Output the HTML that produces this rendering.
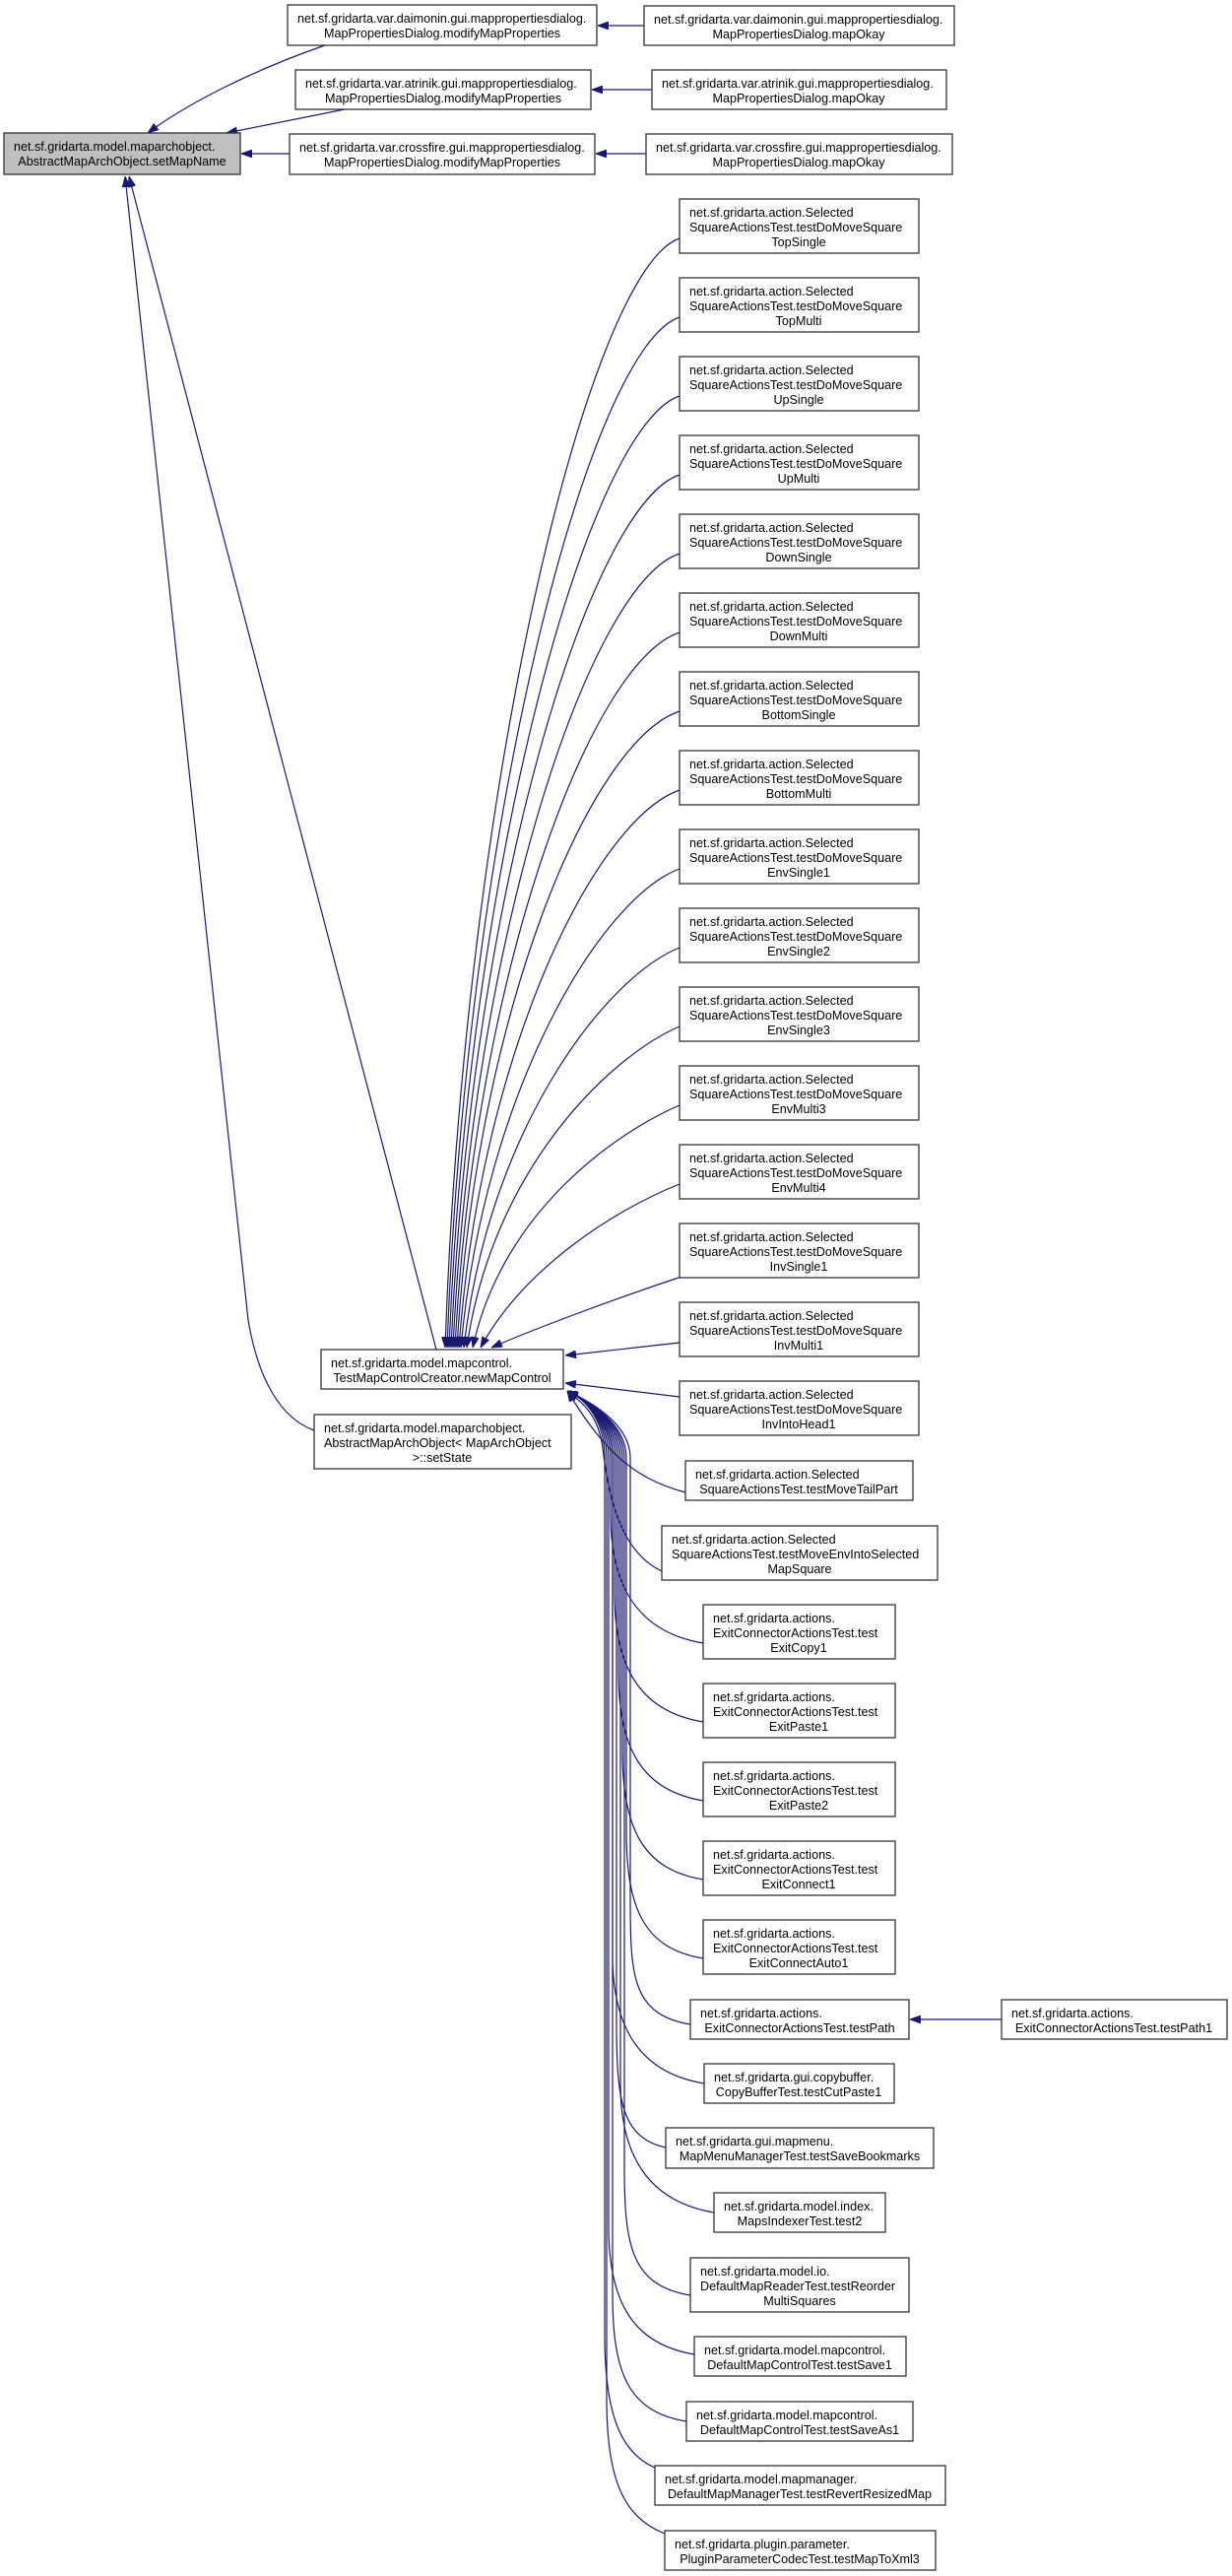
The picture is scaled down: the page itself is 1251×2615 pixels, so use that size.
<!DOCTYPE html>
<html><head><meta charset="utf-8">
<style>
html,body{margin:0;padding:0;background:#fff;}
svg{display:block;}
text{font-family:"Liberation Sans",Arial,sans-serif;font-size:12.6px;fill:#000;}
.b{fill:#fff;stroke:#333;stroke-width:1.3;}
.g{fill:#bfbfbf;stroke:#333;stroke-width:1.3;}
.e{fill:none;stroke:#191970;stroke-width:1.2;marker-end:url(#a);}
.m{text-anchor:middle;}
</style></head>
<body>
<svg width="1251" height="2615" viewBox="0 0 1251 2615" xmlns="http://www.w3.org/2000/svg">
<defs>
<marker id="a" viewBox="0 0 10 10" refX="10" refY="5" markerWidth="11" markerHeight="8" markerUnits="userSpaceOnUse" orient="auto" preserveAspectRatio="none"><path d="M0,0 L10,5 L0,10 z" fill="#191970" stroke="#191970"/></marker>
</defs>

<path class="e" d="M330,46 C260,70 190,105 150,135"/>
<path class="e" d="M350,111 L230,135"/>
<path class="e" d="M294,156 L245,156"/>
<path class="e" d="M443,1370 L131,179"/>
<path class="e" d="M319,1452 C285,1440 262,1400 252,1340 L127,179"/>
<path class="e" d="M654,26 L607,26"/>
<path class="e" d="M662,91 L601,91"/>
<path class="e" d="M656,156 L605,156"/>
<path class="e" d="M1017,2050 L924,2050"/>

<path class="e" d="M690,242 C600,272 472,786 452,1368"/>
<path class="e" d="M690,322 C600,352 474,826 454,1368"/>
<path class="e" d="M690,402 C600,432 476,866 456,1368"/>
<path class="e" d="M690,482 C600,512 478,906 458,1368"/>
<path class="e" d="M690,562 C600,592 480,946 460,1368"/>
<path class="e" d="M690,642 C600,672 482,986 462,1368"/>
<path class="e" d="M690,722 C600,752 484,1026 464,1368"/>
<path class="e" d="M690,802 C605,832 488,1066 466,1368"/>
<path class="e" d="M690,882 C610,912 492,1106 468,1368"/>
<path class="e" d="M690,962 C615,992 496,1146 471,1368"/>
<path class="e" d="M690,1042 C620,1072 500,1186 474,1368"/>
<path class="e" d="M690,1122 C625,1150 510,1230 480,1368"/>
<path class="e" d="M690,1202 C620,1230 530,1290 488,1368"/>
<path class="e" d="M692,1296 C620,1320 540,1350 499,1368"/>
<path class="e" d="M690,1363 L574,1376"/>
<path class="e" d="M690,1418 L574,1404"/>

<path class="e" d="M696,1515 C640,1500 612,1470 576,1412"/>
<path class="e" d="M672,1595 C630,1575 618,1520 612,1470 C608,1440 595,1425 576,1413"/>
<path class="e" d="M714,1668 C654,1658 620,1618 620,1538 L620,1480 C620,1445 598,1422 576,1412"/>
<path class="e" d="M714,1748 C654,1738 624,1698 624,1618 L624,1480 C624,1445 598,1422 576,1412"/>
<path class="e" d="M714,1828 C654,1818 628,1778 628,1698 L628,1480 C628,1445 598,1422 576,1412"/>
<path class="e" d="M714,1908 C654,1898 632,1858 632,1778 L632,1480 C632,1445 598,1422 576,1412"/>
<path class="e" d="M714,1988 C654,1978 636,1938 636,1858 L636,1480 C636,1445 598,1422 576,1412"/>
<path class="e" d="M701,2055 C641,2045 640,2005 640,1925 L640,1480 C640,1445 598,1422 576,1412"/>
<path class="e" d="M715,2115 C655,2105 622,2065 622,1985 L622,1480 C622,1445 598,1422 576,1412"/>
<path class="e" d="M676,2180 C630,2170 626,2130 626,2050 L626,1480 C626,1445 598,1422 576,1412"/>
<path class="e" d="M725,2246 C665,2236 630,2196 630,2116 L630,1480 C630,1445 598,1422 576,1412"/>
<path class="e" d="M701,2330 C641,2320 634,2280 634,2200 L634,1480 C634,1445 598,1422 576,1412"/>
<path class="e" d="M705,2390 C645,2380 618,2340 618,2260 L618,1480 C618,1445 598,1422 576,1412"/>
<path class="e" d="M697,2458 C637,2448 622,2408 622,2328 L622,1480 C622,1445 598,1422 576,1412"/>
<path class="e" d="M665,2505 C630,2490 614,2450 614,2370 L614,1480 C614,1445 598,1422 576,1412"/>
<path class="e" d="M675,2572 C632,2555 616,2515 616,2435 L616,1480 C616,1445 598,1422 576,1412"/>

<rect class="g" x="4" y="135" width="240" height="42"/>
<text x="14" y="153">net.sf.gridarta.model.maparchobject.</text>
<text x="124" y="168" class="m">AbstractMapArchObject.setMapName</text>

<rect class="b" x="292" y="5" width="314" height="41"/>
<text x="302" y="23">net.sf.gridarta.var.daimonin.gui.mappropertiesdialog.</text>
<text x="449" y="38" class="m">MapPropertiesDialog.modifyMapProperties</text>
<rect class="b" x="300" y="71" width="300" height="40"/>
<text x="310" y="89">net.sf.gridarta.var.atrinik.gui.mappropertiesdialog.</text>
<text x="450" y="104" class="m">MapPropertiesDialog.modifyMapProperties</text>
<rect class="b" x="294" y="136" width="310" height="41"/>
<text x="304" y="154">net.sf.gridarta.var.crossfire.gui.mappropertiesdialog.</text>
<text x="449" y="169" class="m">MapPropertiesDialog.modifyMapProperties</text>

<rect class="b" x="654" y="6" width="315" height="40"/>
<text x="664" y="24">net.sf.gridarta.var.daimonin.gui.mappropertiesdialog.</text>
<text x="811" y="39" class="m">MapPropertiesDialog.mapOkay</text>
<rect class="b" x="662" y="71" width="299" height="40"/>
<text x="672" y="89">net.sf.gridarta.var.atrinik.gui.mappropertiesdialog.</text>
<text x="811" y="104" class="m">MapPropertiesDialog.mapOkay</text>
<rect class="b" x="656" y="136" width="311" height="41"/>
<text x="666" y="154">net.sf.gridarta.var.crossfire.gui.mappropertiesdialog.</text>
<text x="811" y="169" class="m">MapPropertiesDialog.mapOkay</text>

<rect class="b" x="326" y="1370" width="246" height="40"/>
<text x="336" y="1388">net.sf.gridarta.model.mapcontrol.</text>
<text x="449" y="1403" class="m">TestMapControlCreator.newMapControl</text>

<rect class="b" x="319" y="1436" width="261" height="55"/>
<text x="329" y="1454">net.sf.gridarta.model.maparchobject.</text>
<text x="329" y="1469">AbstractMapArchObject&lt; MapArchObject</text>
<text x="449" y="1484" class="m">&gt;::setState</text>

<g>
<rect class="b" x="690" y="202" width="243" height="55"/><text x="700" y="220">net.sf.gridarta.action.Selected</text><text x="700" y="235">SquareActionsTest.testDoMoveSquare</text><text x="811" y="250" class="m">TopSingle</text>
<rect class="b" x="690" y="282" width="243" height="55"/><text x="700" y="300">net.sf.gridarta.action.Selected</text><text x="700" y="315">SquareActionsTest.testDoMoveSquare</text><text x="811" y="330" class="m">TopMulti</text>
<rect class="b" x="690" y="362" width="243" height="55"/><text x="700" y="380">net.sf.gridarta.action.Selected</text><text x="700" y="395">SquareActionsTest.testDoMoveSquare</text><text x="811" y="410" class="m">UpSingle</text>
<rect class="b" x="690" y="442" width="243" height="55"/><text x="700" y="460">net.sf.gridarta.action.Selected</text><text x="700" y="475">SquareActionsTest.testDoMoveSquare</text><text x="811" y="490" class="m">UpMulti</text>
<rect class="b" x="690" y="522" width="243" height="55"/><text x="700" y="540">net.sf.gridarta.action.Selected</text><text x="700" y="555">SquareActionsTest.testDoMoveSquare</text><text x="811" y="570" class="m">DownSingle</text>
<rect class="b" x="690" y="602" width="243" height="55"/><text x="700" y="620">net.sf.gridarta.action.Selected</text><text x="700" y="635">SquareActionsTest.testDoMoveSquare</text><text x="811" y="650" class="m">DownMulti</text>
<rect class="b" x="690" y="682" width="243" height="55"/><text x="700" y="700">net.sf.gridarta.action.Selected</text><text x="700" y="715">SquareActionsTest.testDoMoveSquare</text><text x="811" y="730" class="m">BottomSingle</text>
<rect class="b" x="690" y="762" width="243" height="55"/><text x="700" y="780">net.sf.gridarta.action.Selected</text><text x="700" y="795">SquareActionsTest.testDoMoveSquare</text><text x="811" y="810" class="m">BottomMulti</text>
<rect class="b" x="690" y="842" width="243" height="55"/><text x="700" y="860">net.sf.gridarta.action.Selected</text><text x="700" y="875">SquareActionsTest.testDoMoveSquare</text><text x="811" y="890" class="m">EnvSingle1</text>
<rect class="b" x="690" y="922" width="243" height="55"/><text x="700" y="940">net.sf.gridarta.action.Selected</text><text x="700" y="955">SquareActionsTest.testDoMoveSquare</text><text x="811" y="970" class="m">EnvSingle2</text>
<rect class="b" x="690" y="1002" width="243" height="55"/><text x="700" y="1020">net.sf.gridarta.action.Selected</text><text x="700" y="1035">SquareActionsTest.testDoMoveSquare</text><text x="811" y="1050" class="m">EnvSingle3</text>
<rect class="b" x="690" y="1082" width="243" height="55"/><text x="700" y="1100">net.sf.gridarta.action.Selected</text><text x="700" y="1115">SquareActionsTest.testDoMoveSquare</text><text x="811" y="1130" class="m">EnvMulti3</text>
<rect class="b" x="690" y="1162" width="243" height="55"/><text x="700" y="1180">net.sf.gridarta.action.Selected</text><text x="700" y="1195">SquareActionsTest.testDoMoveSquare</text><text x="811" y="1210" class="m">EnvMulti4</text>
<rect class="b" x="690" y="1242" width="243" height="55"/><text x="700" y="1260">net.sf.gridarta.action.Selected</text><text x="700" y="1275">SquareActionsTest.testDoMoveSquare</text><text x="811" y="1290" class="m">InvSingle1</text>
<rect class="b" x="690" y="1322" width="243" height="55"/><text x="700" y="1340">net.sf.gridarta.action.Selected</text><text x="700" y="1355">SquareActionsTest.testDoMoveSquare</text><text x="811" y="1370" class="m">InvMulti1</text>
<rect class="b" x="690" y="1402" width="243" height="55"/><text x="700" y="1420">net.sf.gridarta.action.Selected</text><text x="700" y="1435">SquareActionsTest.testDoMoveSquare</text><text x="811" y="1450" class="m">InvIntoHead1</text>
</g>

<rect class="b" x="696" y="1483" width="231" height="40"/>
<text x="706" y="1501">net.sf.gridarta.action.Selected</text>
<text x="811" y="1516" class="m">SquareActionsTest.testMoveTailPart</text>

<rect class="b" x="672" y="1549" width="280" height="55"/>
<text x="682" y="1567">net.sf.gridarta.action.Selected</text>
<text x="682" y="1582">SquareActionsTest.testMoveEnvIntoSelected</text>
<text x="812" y="1597" class="m">MapSquare</text>

<rect class="b" x="714" y="1629" width="195" height="55"/><text x="724" y="1647">net.sf.gridarta.actions.</text><text x="724" y="1662">ExitConnectorActionsTest.test</text><text x="811" y="1677" class="m">ExitCopy1</text>
<rect class="b" x="714" y="1709" width="195" height="55"/><text x="724" y="1727">net.sf.gridarta.actions.</text><text x="724" y="1742">ExitConnectorActionsTest.test</text><text x="811" y="1757" class="m">ExitPaste1</text>
<rect class="b" x="714" y="1789" width="195" height="55"/><text x="724" y="1807">net.sf.gridarta.actions.</text><text x="724" y="1822">ExitConnectorActionsTest.test</text><text x="811" y="1837" class="m">ExitPaste2</text>
<rect class="b" x="714" y="1869" width="195" height="55"/><text x="724" y="1887">net.sf.gridarta.actions.</text><text x="724" y="1902">ExitConnectorActionsTest.test</text><text x="811" y="1917" class="m">ExitConnect1</text>
<rect class="b" x="714" y="1949" width="195" height="55"/><text x="724" y="1967">net.sf.gridarta.actions.</text><text x="724" y="1982">ExitConnectorActionsTest.test</text><text x="811" y="1997" class="m">ExitConnectAuto1</text>

<rect class="b" x="701" y="2030" width="222" height="40"/>
<text x="711" y="2048">net.sf.gridarta.actions.</text>
<text x="812" y="2063" class="m">ExitConnectorActionsTest.testPath</text>

<rect class="b" x="1017" y="2030" width="229" height="40"/>
<text x="1027" y="2048">net.sf.gridarta.actions.</text>
<text x="1131" y="2063" class="m">ExitConnectorActionsTest.testPath1</text>

<rect class="b" x="715" y="2095" width="193" height="40"/>
<text x="725" y="2113">net.sf.gridarta.gui.copybuffer.</text>
<text x="811" y="2128" class="m">CopyBufferTest.testCutPaste1</text>

<rect class="b" x="676" y="2160" width="272" height="41"/>
<text x="686" y="2178">net.sf.gridarta.gui.mapmenu.</text>
<text x="812" y="2193" class="m">MapMenuManagerTest.testSaveBookmarks</text>

<rect class="b" x="725" y="2226" width="174" height="40"/>
<text x="735" y="2244">net.sf.gridarta.model.index.</text>
<text x="812" y="2259" class="m">MapsIndexerTest.test2</text>

<rect class="b" x="701" y="2292" width="222" height="55"/>
<text x="711" y="2310">net.sf.gridarta.model.io.</text>
<text x="711" y="2325">DefaultMapReaderTest.testReorder</text>
<text x="812" y="2340" class="m">MultiSquares</text>

<rect class="b" x="705" y="2372" width="215" height="40"/>
<text x="715" y="2390">net.sf.gridarta.model.mapcontrol.</text>
<text x="812" y="2405" class="m">DefaultMapControlTest.testSave1</text>

<rect class="b" x="697" y="2438" width="230" height="40"/>
<text x="707" y="2456">net.sf.gridarta.model.mapcontrol.</text>
<text x="812" y="2471" class="m">DefaultMapControlTest.testSaveAs1</text>

<rect class="b" x="665" y="2503" width="295" height="40"/>
<text x="675" y="2521">net.sf.gridarta.model.mapmanager.</text>
<text x="812" y="2536" class="m">DefaultMapManagerTest.testRevertResizedMap</text>

<rect class="b" x="675" y="2569" width="275" height="40"/>
<text x="685" y="2587">net.sf.gridarta.plugin.parameter.</text>
<text x="812" y="2602" class="m">PluginParameterCodecTest.testMapToXml3</text>
</svg>
</body></html>
